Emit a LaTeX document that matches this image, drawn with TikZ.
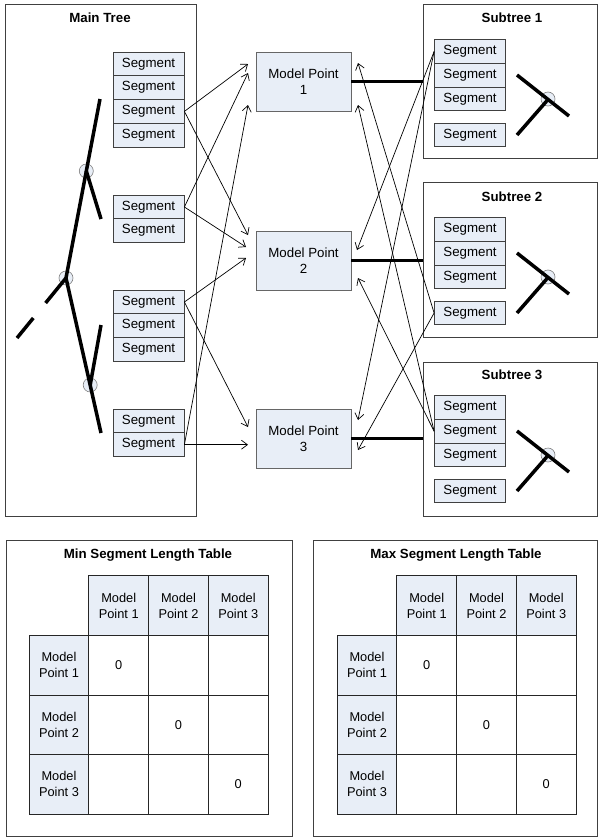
\documentclass[tikz,border=0pt]{standalone}
\usepackage{fontspec}
\setmainfont{Liberation Sans}
\usetikzlibrary{arrows.meta}
\definecolor{boxfill}{RGB}{232,238,247}
\definecolor{edgegray}{RGB}{64,64,64}
\begin{document}
\begin{tikzpicture}[x=1pt,y=-1pt,
  every node/.style={font=\fontsize{13.3}{16}\selectfont},
  panel/.style={draw=edgegray, line width=0.8pt, inner sep=0pt},
  ttl/.style={font=\fontsize{13.3}{16}\selectfont\bfseries},
  seg/.style={draw=edgegray, fill=boxfill, minimum width=71pt, minimum height=23.75pt, inner sep=0pt, line width=0.8pt},
  mpbox/.style={draw=gray!80!black, fill=boxfill, minimum width=95pt, minimum height=59pt, inner sep=0pt, align=center, line width=0.8pt},
  arr/.style={-{Straight Barb[length=6pt,width=9pt]}, line width=0.7pt},
  branch/.style={line width=3.5pt},
  joint/.style={draw=gray, fill=boxfill, line width=0.6pt},
  hcell/.style={draw=black!85, fill=boxfill, minimum width=59.75pt, minimum height=59.6pt, inner sep=0pt, align=center, line width=0.8pt, font=\fontsize{12.8}{16}\selectfont},
  dcell/.style={draw=black!85, fill=white, minimum width=59.75pt, minimum height=59.6pt, inner sep=0pt, align=center, line width=0.8pt, font=\fontsize{12.8}{16}\selectfont}
]
\useasboundingbox (0,0) rectangle (598,838);

% panels
\node[panel, minimum width=191pt, minimum height=512pt] (mainp) at (100.5,260) {};
\node[panel, minimum width=174pt, minimum height=154pt] (sub1) at (510,81) {};
\node[panel, minimum width=174pt, minimum height=155pt] (sub2) at (510,259.5) {};
\node[panel, minimum width=174pt, minimum height=154pt] (sub3) at (510,439) {};
\node[panel, minimum width=286pt, minimum height=296pt] (minp) at (149,688) {};
\node[panel, minimum width=284pt, minimum height=296pt] (maxp) at (455,688) {};

\node[ttl] (tmain) at (100,18) {Main Tree};
\node[ttl] (tsub1) at (512,18) {Subtree 1};
\node[ttl] (tsub2) at (512,197) {Subtree 2};
\node[ttl] (tsub3) at (512,375) {Subtree 3};
\node[ttl] (tmin) at (148,555) {Min Segment Length Table};
\node[ttl] (tmax) at (456,555) {Max Segment Length Table};

% main tree segments
\node[seg] (g1a) at (148.5,63.9) {Segment};
\node[seg] (g1b) at (148.5,87.6) {Segment};
\node[seg] (g1c) at (148.5,111.4) {Segment};
\node[seg] (g1d) at (148.5,135.1) {Segment};
\node[seg] (g2a) at (148.5,207) {Segment};
\node[seg] (g2b) at (148.5,230.7) {Segment};
\node[seg] (g3a) at (148.5,302) {Segment};
\node[seg] (g3b) at (148.5,325.7) {Segment};
\node[seg] (g3c) at (148.5,349.4) {Segment};
\node[seg] (g4a) at (148.5,421) {Segment};
\node[seg] (g4b) at (148.5,444.7) {Segment};

% subtree segments
\foreach \k/\dy in {1/0, 2/178, 3/356} {
  \node[seg] (s\k a) at (470,51.5+\dy) {Segment};
  \node[seg] (s\k b) at (470,75.25+\dy) {Segment};
  \node[seg] (s\k c) at (470,99+\dy) {Segment};
  \node[seg] (s\k d) at (470,135+\dy) {Segment};
}

% model points
\node[mpbox] (mp1) at (303.5,81.5) {Model Point\\1};
\node[mpbox] (mp2) at (303.5,260.5) {Model Point\\2};
\node[mpbox] (mp3) at (303.5,438.5) {Model Point\\3};

% main tree drawing
\filldraw[joint] (86.3,171) circle (7);
\filldraw[joint] (66,278) circle (7);
\filldraw[joint] (90.2,385) circle (7);
\draw[branch] (100,99) -- (66,278);
\draw[branch] (86.3,171) -- (101,219);
\draw[branch] (66,278) -- (101,433);
\draw[branch] (90.2,385) -- (101,325);
\draw[branch] (66,278) -- (45.6,303);
\draw[branch] (33.3,318) -- (17,338);

% subtree drawings
\foreach \dy in {0,178,356} {
  \filldraw[joint] (548,99+\dy) circle (7);
  \draw[branch] (517,75+\dy) -- (569,116+\dy);
  \draw[branch] (517,135+\dy) -- (548,99.5+\dy);
}

% thick links
\draw[branch] (mp1.east) -- (mp1.east -| sub1.west);
\draw[branch] (mp2.east) -- (mp2.east -| sub2.west);
\draw[branch] (mp3.east) -- (mp3.east -| sub3.west);

% arrow tips (left)
\coordinate (t1a) at (248,64);
\coordinate (t1b) at (248,73);
\coordinate (t1c) at (248,105);
\coordinate (t2a) at (248,235);
\coordinate (t2b) at (246,247);
\coordinate (t2c) at (246,258);
\coordinate (t3a) at (248,427);
\coordinate (t3b) at (248,444.7);
% arrow tips (right)
\coordinate (u1a) at (358,63);
\coordinate (u1b) at (358,105);
\coordinate (u2a) at (357,250);
\coordinate (u2b) at (358,278);
\coordinate (u3a) at (358,420);
\coordinate (u3b) at (358,450);

\draw[arr] (g1c.east) -- (t1a);
\draw[arr] (g1c.east) -- (t2a);
\draw[arr] (g2a.east) -- (t1b);
\draw[arr] (g2a.east) -- (t2b);
\draw[arr] (g3a.east) -- (t2c);
\draw[arr] (g3a.east) -- (t3a);
\draw[arr] (g4b.east) -- (t1c);
\draw[arr] (g4b.east) -- (t3b);

\draw[arr] (s1a.west) -- (u2a);
\draw[arr] (s1a.west) -- (u3a);
\draw[arr] (s2d.west) -- (u1a);
\draw[arr] (s2d.west) -- (u3b);
\draw[arr] (s3b.west) -- (u1b);
\draw[arr] (s3b.west) -- (u2b);

% tables
\foreach \p/\ox in {min/0, max/308} {
  \foreach \c in {1,2,3} {
    \node[hcell] (\p-h\c) at (59+\c*59.75+\ox, 605.5) {Model\\Point \c};
  }
  \foreach \r in {1,2,3} {
    \node[hcell] (\p-l\r) at (59+\ox, 605.5+\r*59.6) {Model\\Point \r};
    \foreach \c in {1,2,3} {
      \node[dcell] (\p-c\r\c) at (59+\c*59.75+\ox, 605.5+\r*59.6) {\ifnum\r=\c\relax 0\fi};
    }
  }
}
\end{tikzpicture}
\end{document}
